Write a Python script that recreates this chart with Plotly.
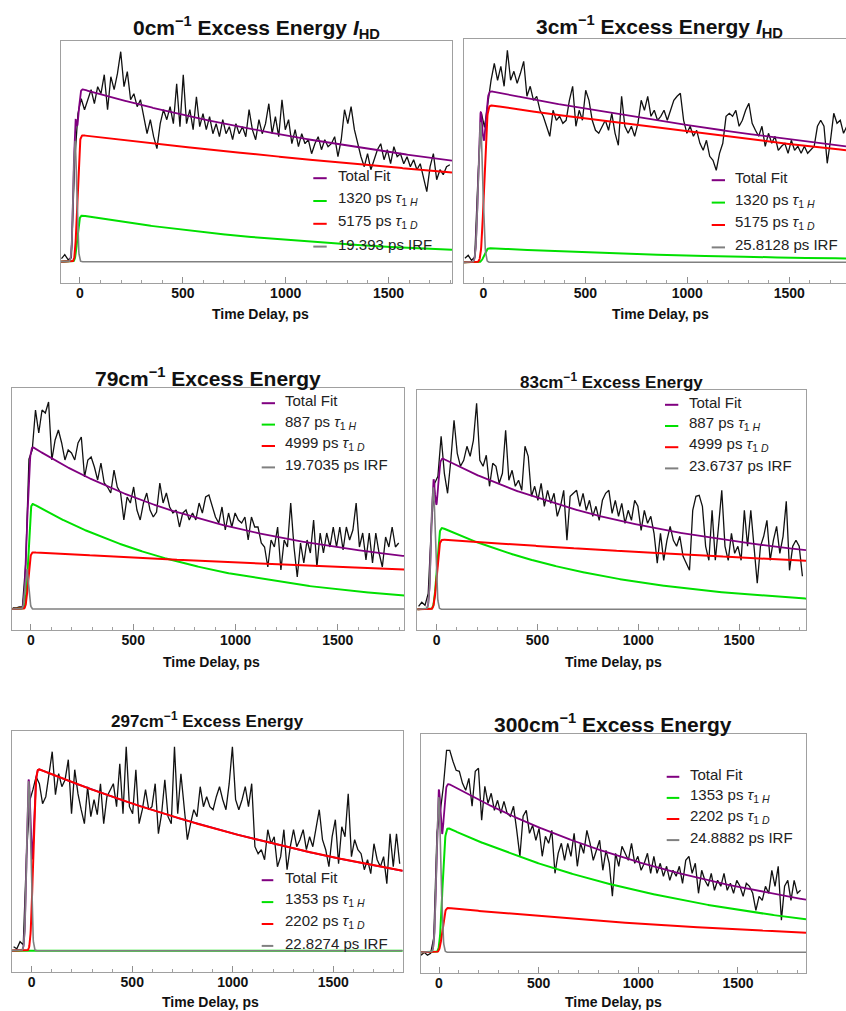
import math
import numpy as np
import plotly.graph_objects as go

FIG_W, FIG_H = 846, 1011

# Pump-probe delay grid of the scans (ps)
SCAN_START_PS = -90
SCAN_STEP_PS = 16

excess_energy = ["0", "3", "79", "83", "297", "300"]
hd_tag = [True, True, False, False, False, False]

# Measured transients (arb. units above baseline)
signal_0 = [3, 7, 2, 4, 100, 148, 163, 152, 162, 172, 158, 175, 168, 187, 152, 185, 172, 188, 210, 175,
            190, 162, 168, 155, 162, 145, 128, 142, 125, 113, 138, 152, 142, 155, 138, 178, 135, 187, 138, 152,
            132, 165, 135, 148, 132, 145, 128, 138, 125, 142, 128, 135, 122, 138, 128, 135, 125, 152, 132, 122,
            142, 128, 138, 158, 128, 145, 125, 162, 132, 142, 118, 132, 115, 128, 118, 122, 108, 118, 125, 112,
            122, 115, 118, 125, 105, 122, 152, 138, 155, 132, 118, 105, 95, 108, 92, 102, 112, 118, 102, 112,
            98, 115, 105, 108, 98, 105, 95, 102, 92, 98, 85, 70, 95, 108, 82, 92, 87, 95, 97]
signal_3 = [4, 7, 2, 5, 85, 150, 135, 159, 182, 199, 182, 196, 176, 212, 182, 191, 179, 189, 201, 166,
            176, 162, 166, 152, 146, 136, 126, 152, 142, 146, 139, 142, 162, 176, 136, 152, 142, 172, 162, 142,
            132, 129, 136, 142, 132, 149, 129, 117, 166, 136, 129, 136, 126, 139, 162, 152, 166, 146, 152, 142,
            146, 152, 142, 152, 162, 166, 169, 142, 129, 136, 126, 132, 119, 112, 122, 106, 102, 92, 109, 119,
            146, 149, 146, 152, 136, 142, 152, 159, 139, 132, 126, 136, 116, 129, 119, 126, 112, 116, 119, 109,
            122, 112, 116, 109, 116, 109, 112, 116, 136, 142, 136, 99, 122, 149, 139, 142, 129, 136, 132]
signal_79 = [1, 1, 2, 2, 45, 150, 159, 199, 176, 199, 196, 207, 149, 169, 179, 166, 149, 159, 156, 149,
             166, 172, 132, 149, 152, 142, 129, 146, 126, 122, 116, 139, 122, 116, 89, 112, 106, 122, 99, 89,
             106, 116, 99, 92, 97, 126, 106, 116, 102, 96, 99, 82, 96, 99, 89, 96, 89, 106, 96, 112,
             114, 102, 92, 86, 102, 79, 96, 82, 96, 89, 86, 92, 69, 92, 82, 82, 66, 62, 42, 69,
             62, 82, 39, 69, 62, 106, 62, 32, 66, 46, 69, 56, 89, 42, 76, 56, 76, 62, 82, 62,
             82, 59, 82, 69, 79, 106, 62, 76, 49, 76, 46, 76, 56, 42, 72, 62, 82, 62, 66]
signal_83 = [3, 7, 4, 16, 85, 126, 133, 173, 136, 116, 149, 189, 156, 143, 149, 163, 153, 169, 206, 149,
             143, 154, 123, 146, 143, 126, 136, 179, 129, 139, 123, 129, 119, 163, 153, 113, 123, 109, 126, 103,
             119, 106, 116, 93, 103, 119, 69, 113, 116, 119, 103, 116, 99, 109, 93, 103, 89, 109, 116, 119,
             96, 109, 93, 106, 86, 99, 89, 109, 103, 79, 99, 86, 93, 76, 46, 76, 49, 69, 83, 69,
             63, 73, 53, 46, 39, 99, 113, 114, 103, 63, 49, 99, 49, 83, 119, 63, 49, 76, 56, 63,
             49, 99, 63, 99, 63, 26, 63, 73, 89, 49, 69, 83, 56, 73, 108, 39, 63, 69, 63, 33]
signal_297 = [4, 2, 9, 6, 95, 150, 161, 174, 167, 147, 154, 177, 199, 156, 177, 164, 171, 191, 137, 181,
              157, 141, 127, 164, 134, 151, 136, 167, 127, 154, 161, 167, 144, 187, 137, 204, 144, 137, 181, 127,
              141, 161, 141, 144, 167, 117, 137, 171, 134, 127, 204, 137, 177, 141, 111, 127, 141, 134, 164, 144,
              154, 144, 141, 154, 164, 151, 141, 167, 204, 151, 141, 151, 164, 144, 167, 104, 97, 101, 91, 121,
              107, 114, 84, 94, 121, 81, 104, 121, 104, 111, 121, 101, 114, 104, 124, 141, 111, 101, 84, 114,
              131, 87, 124, 114, 157, 94, 111, 101, 97, 81, 91, 77, 107, 91, 84, 94, 67, 117, 84, 117, 87]
signal_300 = [-3, 0, -3, -1, 15, 120, 140, 166, 202, 202, 191, 182, 181, 169, 162, 174, 146, 181, 184, 132,
              166, 149, 159, 142, 152, 139, 151, 139, 136, 146, 122, 96, 136, 142, 119, 127, 112, 124, 96, 116,
              109, 122, 79, 99, 109, 92, 109, 96, 119, 86, 109, 99, 122, 109, 92, 102, 112, 82, 102, 89,
              56, 99, 86, 106, 99, 92, 109, 89, 96, 82, 89, 99, 79, 96, 79, 89, 76, 86, 72, 82,
              76, 86, 69, 92, 96, 79, 89, 59, 82, 72, 66, 79, 62, 72, 66, 79, 62, 69, 59, 72,
              66, 56, 69, 66, 59, 42, 56, 52, 66, 59, 82, 66, 86, 32, 66, 72, 52, 72, 59, 62]
signals = [signal_0, signal_3, signal_79, signal_83, signal_297, signal_300]

# Fit parameters (lifetimes in ps, amplitudes in the signal units)
tau_h_ps = [1320, 1320, 887, 887, 1353, 1353]
tau_d_ps = [5175, 5175, 4999, 4999, 2202, 2202]
irf_fwhm_ps = [19.393, 25.8128, 19.7035, 23.6737, 22.8274, 24.8882]
amp_h = [47, 14.5, 108, 84, 0, 127]
amp_d = [127, 158, 57, 70, 184, 45]
amp_irf = [121, 140, 40, 122, 169, 155]
t_onset_ps = [-13, 4, -14, 0, 7, 17]
t_irf_ps = [-24, -14, -20, -17, -15, -1.5]

# ---- layout geometry (pixels) ----
boxes = [(60.7, 40.7, 452, 282.7), (464, 39.3, 846, 283.3), (12.3, 388.3, 404.3, 630),
         (417.3, 390, 806, 630), (11.7, 731, 402.7, 971.7), (420.7, 734.3, 806, 972.7)]
baseline_px = [261.7, 262.3, 609, 609.3, 950.7, 952.3]
x_ranges = [(-93.8, 1808.5), (-94.6, 1778), (-91.4, 1825.4), (-96.2, 1831.8),
            (-99.5, 1844.9), (-91.8, 1841.4)]
right_frame = [True, False, True, True, True, True]
title_pos = [(256, 27), (659, 26), (207.5, 377), (611.7, 381), (207.5, 720), (613.3, 723)]
title_size = [21, 21, 21, 17, 17, 21]
xtitle_pos = [(260.3, 314), (660, 314), (211.7, 661.7), (613.3, 661.7), (210.7, 1002.3), (613.3, 1002.3)]
legend_line_x = [(313.3, 326.7), (711.7, 725), (261.7, 275), (665, 678.3), (261.7, 273.3), (666.7, 679.3)]
legend_text_x = [336, 733.3, 283.3, 686.7, 282.7, 688.3]
legend_top_y = [175.7, 177.7, 400.7, 402.3, 877.7, 774.3]
legend_gap = [22.8, 22.4, 21.4, 21.2, 21.9, 21.1]

COL_TOTAL = "#800080"
COL_H = "#00e000"
COL_D = "#ff0000"
COL_IRF = "#808080"
FRAME = "#a0a0a0"
TEXT = "#111111"
FONT = "Liberation Sans, Arial, sans-serif"

erf = np.vectorize(math.erf)


def px_x(px):
    return px / FIG_W


def px_y(py):
    return 1 - py / FIG_H


def conv_decay(t, amp, tau, t0, sigma):
    """Exponential decay convolved with a Gaussian instrument response."""
    s = t - t0
    arg = (s - sigma ** 2 / tau) / (sigma * math.sqrt(2))
    return amp * 0.5 * (1 + erf(arg)) * np.exp(-s / tau + sigma ** 2 / (2 * tau ** 2))


fig = go.Figure()
annotations = []
shapes = []
layout_axes = {}

for i in range(6):
    n = "" if i == 0 else str(i + 1)
    xa, ya = "x" + n, "y" + n
    left, top, right, bottom = boxes[i]
    base = baseline_px[i]
    y_range = [base - bottom, base - top]

    # measured transient
    sig = signals[i]
    delay = SCAN_START_PS + SCAN_STEP_PS * np.arange(len(sig))
    fig.add_trace(go.Scatter(x=delay, y=sig, mode="lines", xaxis=xa, yaxis=ya,
                             line=dict(color="#111111", width=1.3), showlegend=False,
                             hoverinfo="skip"))

    # fit components
    t = np.linspace(x_ranges[i][0], x_ranges[i][1], 1600)
    sigma = irf_fwhm_ps[i] / (2 * math.sqrt(2 * math.log(2)))
    comp_h = conv_decay(t, amp_h[i], tau_h_ps[i], t_onset_ps[i], sigma)
    comp_d = conv_decay(t, amp_d[i], tau_d_ps[i], t_onset_ps[i], sigma)
    comp_irf = amp_irf[i] * np.exp(-0.5 * ((t - t_irf_ps[i]) / sigma) ** 2)
    total = comp_h + comp_d + comp_irf

    for y, col, w in [(total, COL_TOTAL, 1.8), (comp_h, COL_H, 2.0),
                      (comp_d, COL_D, 2.0), (comp_irf, COL_IRF, 1.6)]:
        fig.add_trace(go.Scatter(x=t, y=y, mode="lines", xaxis=xa, yaxis=ya,
                                 line=dict(color=col, width=w), showlegend=False,
                                 hoverinfo="skip"))

    layout_axes["xaxis" + n] = dict(
        domain=[px_x(left), px_x(right)], range=list(x_ranges[i]), anchor=ya,
        tickmode="linear", tick0=0, dtick=500, ticks="inside", ticklen=6, tickwidth=1,
        tickcolor="#909090", showline=True, linecolor=FRAME, linewidth=1, mirror=True,
        showgrid=False, zeroline=False, ticklabelstandoff=-3,
        tickfont=dict(family=FONT, size=14, color=TEXT, weight="bold"),
        minor=dict(dtick=100, tick0=0, ticks="inside", ticklen=3, tickcolor="#a0a0a0",
                   showgrid=False),
    )
    layout_axes["yaxis" + n] = dict(
        domain=[px_y(bottom), px_y(top)], range=y_range, anchor=xa,
        showticklabels=False, ticks="", showline=True, linecolor=FRAME, linewidth=1,
        mirror=right_frame[i], showgrid=False, zeroline=False,
    )

    # panel title
    title = f"<b>{excess_energy[i]}cm<sup>\u22121</sup> Excess Energy"
    if hd_tag[i]:
        title += " <i>I</i><sub>HD</sub>"
    title += "</b>"
    annotations.append(dict(text=title, x=px_x(title_pos[i][0]), y=px_y(title_pos[i][1]),
                            xref="paper", yref="paper", xanchor="center", yanchor="middle",
                            showarrow=False, font=dict(family=FONT, size=title_size[i], color=TEXT)))
    # x-axis title
    annotations.append(dict(text="<b>Time Delay, ps</b>", x=px_x(xtitle_pos[i][0]),
                            y=px_y(xtitle_pos[i][1]), xref="paper", yref="paper",
                            xanchor="center", yanchor="middle", showarrow=False,
                            font=dict(family=FONT, size=14, color=TEXT)))

    # legend
    labels = [
        "Total Fit",
        f"{tau_h_ps[i]} ps <i>\u03c4</i><sub>1 <i>H</i></sub>",
        f"{tau_d_ps[i]} ps <i>\u03c4</i><sub>1 <i>D</i></sub>",
        f"{irf_fwhm_ps[i]} ps IRF",
    ]
    cols = [COL_TOTAL, COL_H, COL_D, COL_IRF]
    for k, (lab, col) in enumerate(zip(labels, cols)):
        yc = legend_top_y[i] + k * legend_gap[i]
        shapes.append(dict(type="line", xref="paper", yref="paper",
                           x0=px_x(legend_line_x[i][0]), x1=px_x(legend_line_x[i][1]),
                           y0=px_y(yc + 2.5), y1=px_y(yc + 2.5),
                           line=dict(color=col, width=2)))
        annotations.append(dict(text=lab, x=px_x(legend_text_x[i]), y=px_y(yc),
                                xref="paper", yref="paper", xanchor="left", yanchor="middle",
                                showarrow=False, font=dict(family=FONT, size=15, color="#222222")))

fig.update_layout(
    width=FIG_W, height=FIG_H, margin=dict(l=0, r=0, t=0, b=0),
    paper_bgcolor="white", plot_bgcolor="white", showlegend=False,
    annotations=annotations, shapes=shapes, **layout_axes,
)

fig.write_html("out.html")
